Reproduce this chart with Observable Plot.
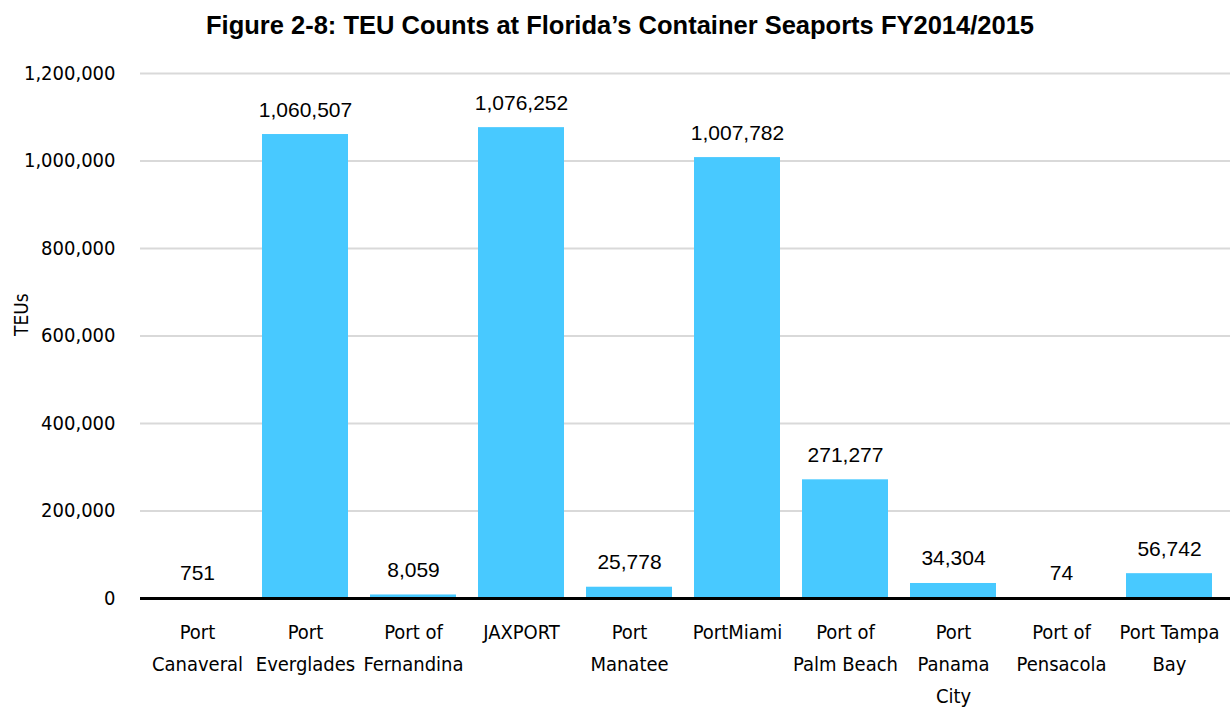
<!DOCTYPE html>
<html>
<head>
<meta charset="utf-8">
<script src="https://cdn.jsdelivr.net/npm/d3@7"></script>
<script src="https://cdn.jsdelivr.net/npm/@observablehq/plot@0.6"></script>
<style>
  html, body { margin: 0; padding: 0; background: #fff; }
  #title {
    font-family: "Liberation Sans", Arial, sans-serif;
    font-weight: bold;
    font-size: 25.5px;
    text-align: center;
    width: 1240px;
    height: 50px;
    line-height: 50px;
    color: #000;
  }
  #chart svg { display: block; }
</style>
</head>
<body>
<div id="title">Figure 2-8: TEU Counts at Florida’s Container Seaports FY2014/2015</div>
<div id="chart"></div>
<script>
const ports = ["Port Canaveral", "Port Everglades", "Port of Fernandina", "JAXPORT", "Port Manatee", "PortMiami", "Port of Palm Beach", "Port Panama City", "Port of Pensacola", "Port Tampa Bay"];
const tickLabels = ["Port\nCanaveral", "Port\nEverglades", "Port of\nFernandina", "JAXPORT", "Port\nManatee", "PortMiami", "Port of\nPalm Beach", "Port\nPanama\nCity", "Port of\nPensacola", "Port Tampa\nBay"];
const teus = [751, 1060507, 8059, 1076252, 25778, 1007782, 271277, 34304, 74, 56742];
const yTicks = [0, 200000, 400000, 600000, 800000, 1000000, 1200000];

const data = ports.map((p, i) => ({port: p, teu: teus[i]}));
const labelOf = new Map(ports.map((p, i) => [p, tickLabels[i]]));
const fmt = d3.format(",");
const narrow = `"DejaVu Sans Condensed", "DejaVu Sans", sans-serif`;

const chart = Plot.plot({
  width: 1230,
  height: 660,
  marginTop: 23,
  marginBottom: 112,
  marginLeft: 140,
  marginRight: 0,
  style: {fontFamily: narrow, fontSize: "20px", color: "#000", background: "#fff", fontStretch: "condensed"},
  x: {domain: ports, paddingInner: 0.2, paddingOuter: 0.1, insetRight: 4, label: null},
  y: {domain: [0, 1200000], label: null},
  marks: [
    Plot.gridY(yTicks, {stroke: "#d9d9d9", strokeOpacity: 1, strokeWidth: 2}),
    Plot.axisY(yTicks, {tickSize: 0, tickPadding: 25, tickFormat: fmt, fontSize: 20, fontFamily: narrow}),
    Plot.axisX({tickSize: 0, tickPadding: 18, tickFormat: d => labelOf.get(d), fontSize: 20, fontFamily: narrow, lineHeight: 1.6}),
    Plot.barY(data, {x: "port", y: "teu", fill: "#48c9ff"}),
    Plot.ruleY([0], {stroke: "#000", strokeWidth: 3}),
    Plot.text(data, {x: "port", y: "teu", text: d => fmt(d.teu), lineAnchor: "bottom", dy: -18, fontSize: 21, fontFamily: `"Liberation Sans", Arial, sans-serif`, fill: "#000"}),
    Plot.text(["TEUs"], {frameAnchor: "left", dx: -119, rotate: -90, fontSize: 19, fontFamily: narrow, fill: "#000"})
  ]
});
document.getElementById("chart").appendChild(chart);
</script>
</body>
</html>
